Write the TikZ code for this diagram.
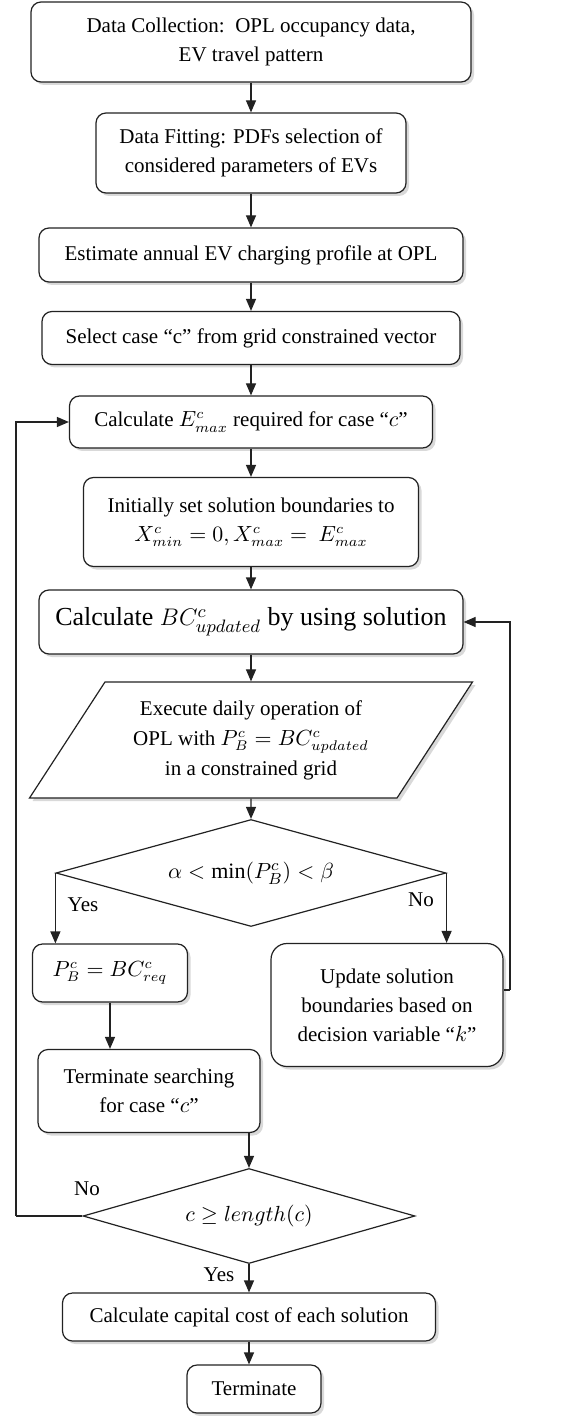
\documentclass[tikz,border=0pt]{standalone}
\usepackage{fontspec}
\setmainfont{Liberation Serif}
\usetikzlibrary{shapes.geometric, arrows.meta, shadows}
\definecolor{trazo}{HTML}{222222}
\tikzset{
  caja/.style={rectangle, rounded corners=5pt, draw=trazo, line width=0.6pt, fill=white,
               align=center, font=\fontsize{10.5}{14.5}\selectfont,
               drop shadow={shadow xshift=1.5pt, shadow yshift=-1.5pt, opacity=0.3}},
  datos/.style={trapezium, trapezium left angle=52.5, trapezium right angle=127.5,
                trapezium stretches=true, draw=trazo, line width=0.6pt, fill=white,
                align=center, font=\fontsize{10.5}{15}\selectfont, inner sep=0pt,
                drop shadow={shadow xshift=1.5pt, shadow yshift=-1.5pt, opacity=0.3}},
  rombo/.style={diamond, draw=trazo, line width=0.6pt, fill=white, inner sep=0pt,
                align=center, font=\fontsize{11}{14}\selectfont},
  etiq/.style={font=\fontsize{10.5}{12}\selectfont, inner sep=1pt},
  arrow/.style={line width=0.6pt,->,>={Triangle[length=6pt,width=5pt]},color=trazo},
  conector/.style={line width=0.6pt,color=trazo}
}
\begin{document}
\begin{tikzpicture}[x=0.5pt,y=-0.5pt]
  \useasboundingbox (0,0) rectangle (568,1416);
  % columna principal
  \node (n1) [caja, minimum width=220pt, minimum height=40pt] at (251,42)
    {Data Collection:\ \ OPL occupancy\ data,\\EV travel pattern};
  \node (n2) [caja, minimum width=155pt, minimum height=40pt] at (251,153)
    {Data Fitting: PDFs selection\ of\\considered\ parameters\ of EVs};
  \node (n3) [caja, minimum width=212pt, minimum height=27pt] at (251,255)
    {Estimate annual EV charging profile at OPL};
  \node (n4) [caja, minimum width=209pt, minimum height=26.5pt] at (251,338)
    {Select case ``c'' from grid constrained\ vector};
  \node (n5) [caja, minimum width=181.5pt, minimum height=26pt] at (251,422)
    {Calculate $E^{c}_{max}$ required for case ``$c$''};
  \node (n6) [caja, minimum width=167.5pt, minimum height=44.5pt] at (251,522)
    {Initially set solution boundaries to\\$X^{c}_{min}=0, X^{c}_{max}=\ E^{c}_{max}$};
  \node (n7) [caja, minimum width=212pt, minimum height=32pt, font=\fontsize{13}{15}\selectfont] at (251,622)
    {Calculate $BC^{c}_{updated}$ by using solution};
  \node (p1) [datos, minimum width=222pt, minimum height=58pt] at (251,740)
    {Execute daily operation of\\OPL with $P^{c}_{B}=BC^{c}_{updated}$\\in a constrained\ grid};
  \node (d1) [rombo, aspect=3.64, minimum width=195pt, minimum height=53.5pt] at (251,873)
    {$\alpha<\min(P^{c}_{B})<\beta$};
  % ramas
  \node (n8) [caja, minimum width=77.5pt, minimum height=29pt] at (110,973)
    {$P^{c}_{B}=BC^{c}_{req}$};
  \node (n9) [caja, rounded corners=8pt, minimum width=116pt, minimum height=61.5pt] at (387,1005)
    {Update solution\\boundaries based on\\decision\ variable ``$k$''};
  \node (n10) [caja, minimum width=111pt, minimum height=41.5pt] at (149,1091)
    {Terminate\ searching\\for case\ ``$c$''};
  \node (d2) [rombo, aspect=3.5, minimum width=166pt, minimum height=47.5pt] at (249,1216)
    {$c\geq length(c)$};
  \node (n11) [caja, minimum width=186.5pt, minimum height=24pt] at (249,1317)
    {Calculate\ capital\ cost\ of each\ solution};
  \node (n12) [caja, minimum width=67pt, minimum height=24pt] at (254,1389)
    {Terminate};
  % etiquetas
  \node (si1) [etiq] at (83,905) {Yes};
  \node (no1) [etiq] at (421,900) {No};
  \node (no2) [etiq] at (87,1189) {No};
  \node (si2) [etiq] at (219,1275) {Yes};
  % puntos de retorno
  \coordinate (ret1) at (16,1216);
  \coordinate (ret2) at (510,990);
  % flechas
  \draw [arrow] (n1) -- (n2);
  \draw [arrow] (n2) -- (n3);
  \draw [arrow] (n3) -- (n4);
  \draw [arrow] (n4) -- (n5);
  \draw [arrow] (n5) -- (n6);
  \draw [arrow] (n6) -- (n7);
  \draw [arrow] (n7) -- (p1);
  \draw [arrow] (p1) -- (d1);
  \draw [arrow] (d1.west) -- (d1.west |- n8.north);
  \draw [arrow] (d1.east) -- (d1.east |- n9.north);
  \draw [arrow] (n8.south) -- (n8.south |- n10.north);
  \draw [arrow] (d2.north |- n10.south) -- (d2.north);
  \draw [arrow] (d2) -- (n11);
  \draw [arrow] (n11.south) -- (n11.south |- n12.north);
  \draw [conector] (d2.west) -- (ret1);
  \draw [arrow] (ret1) |- (n5.west);
  \draw [conector] (n9.east |- ret2) -- (ret2);
  \draw [arrow] (ret2) |- (n7.east);
\end{tikzpicture}
\end{document}
